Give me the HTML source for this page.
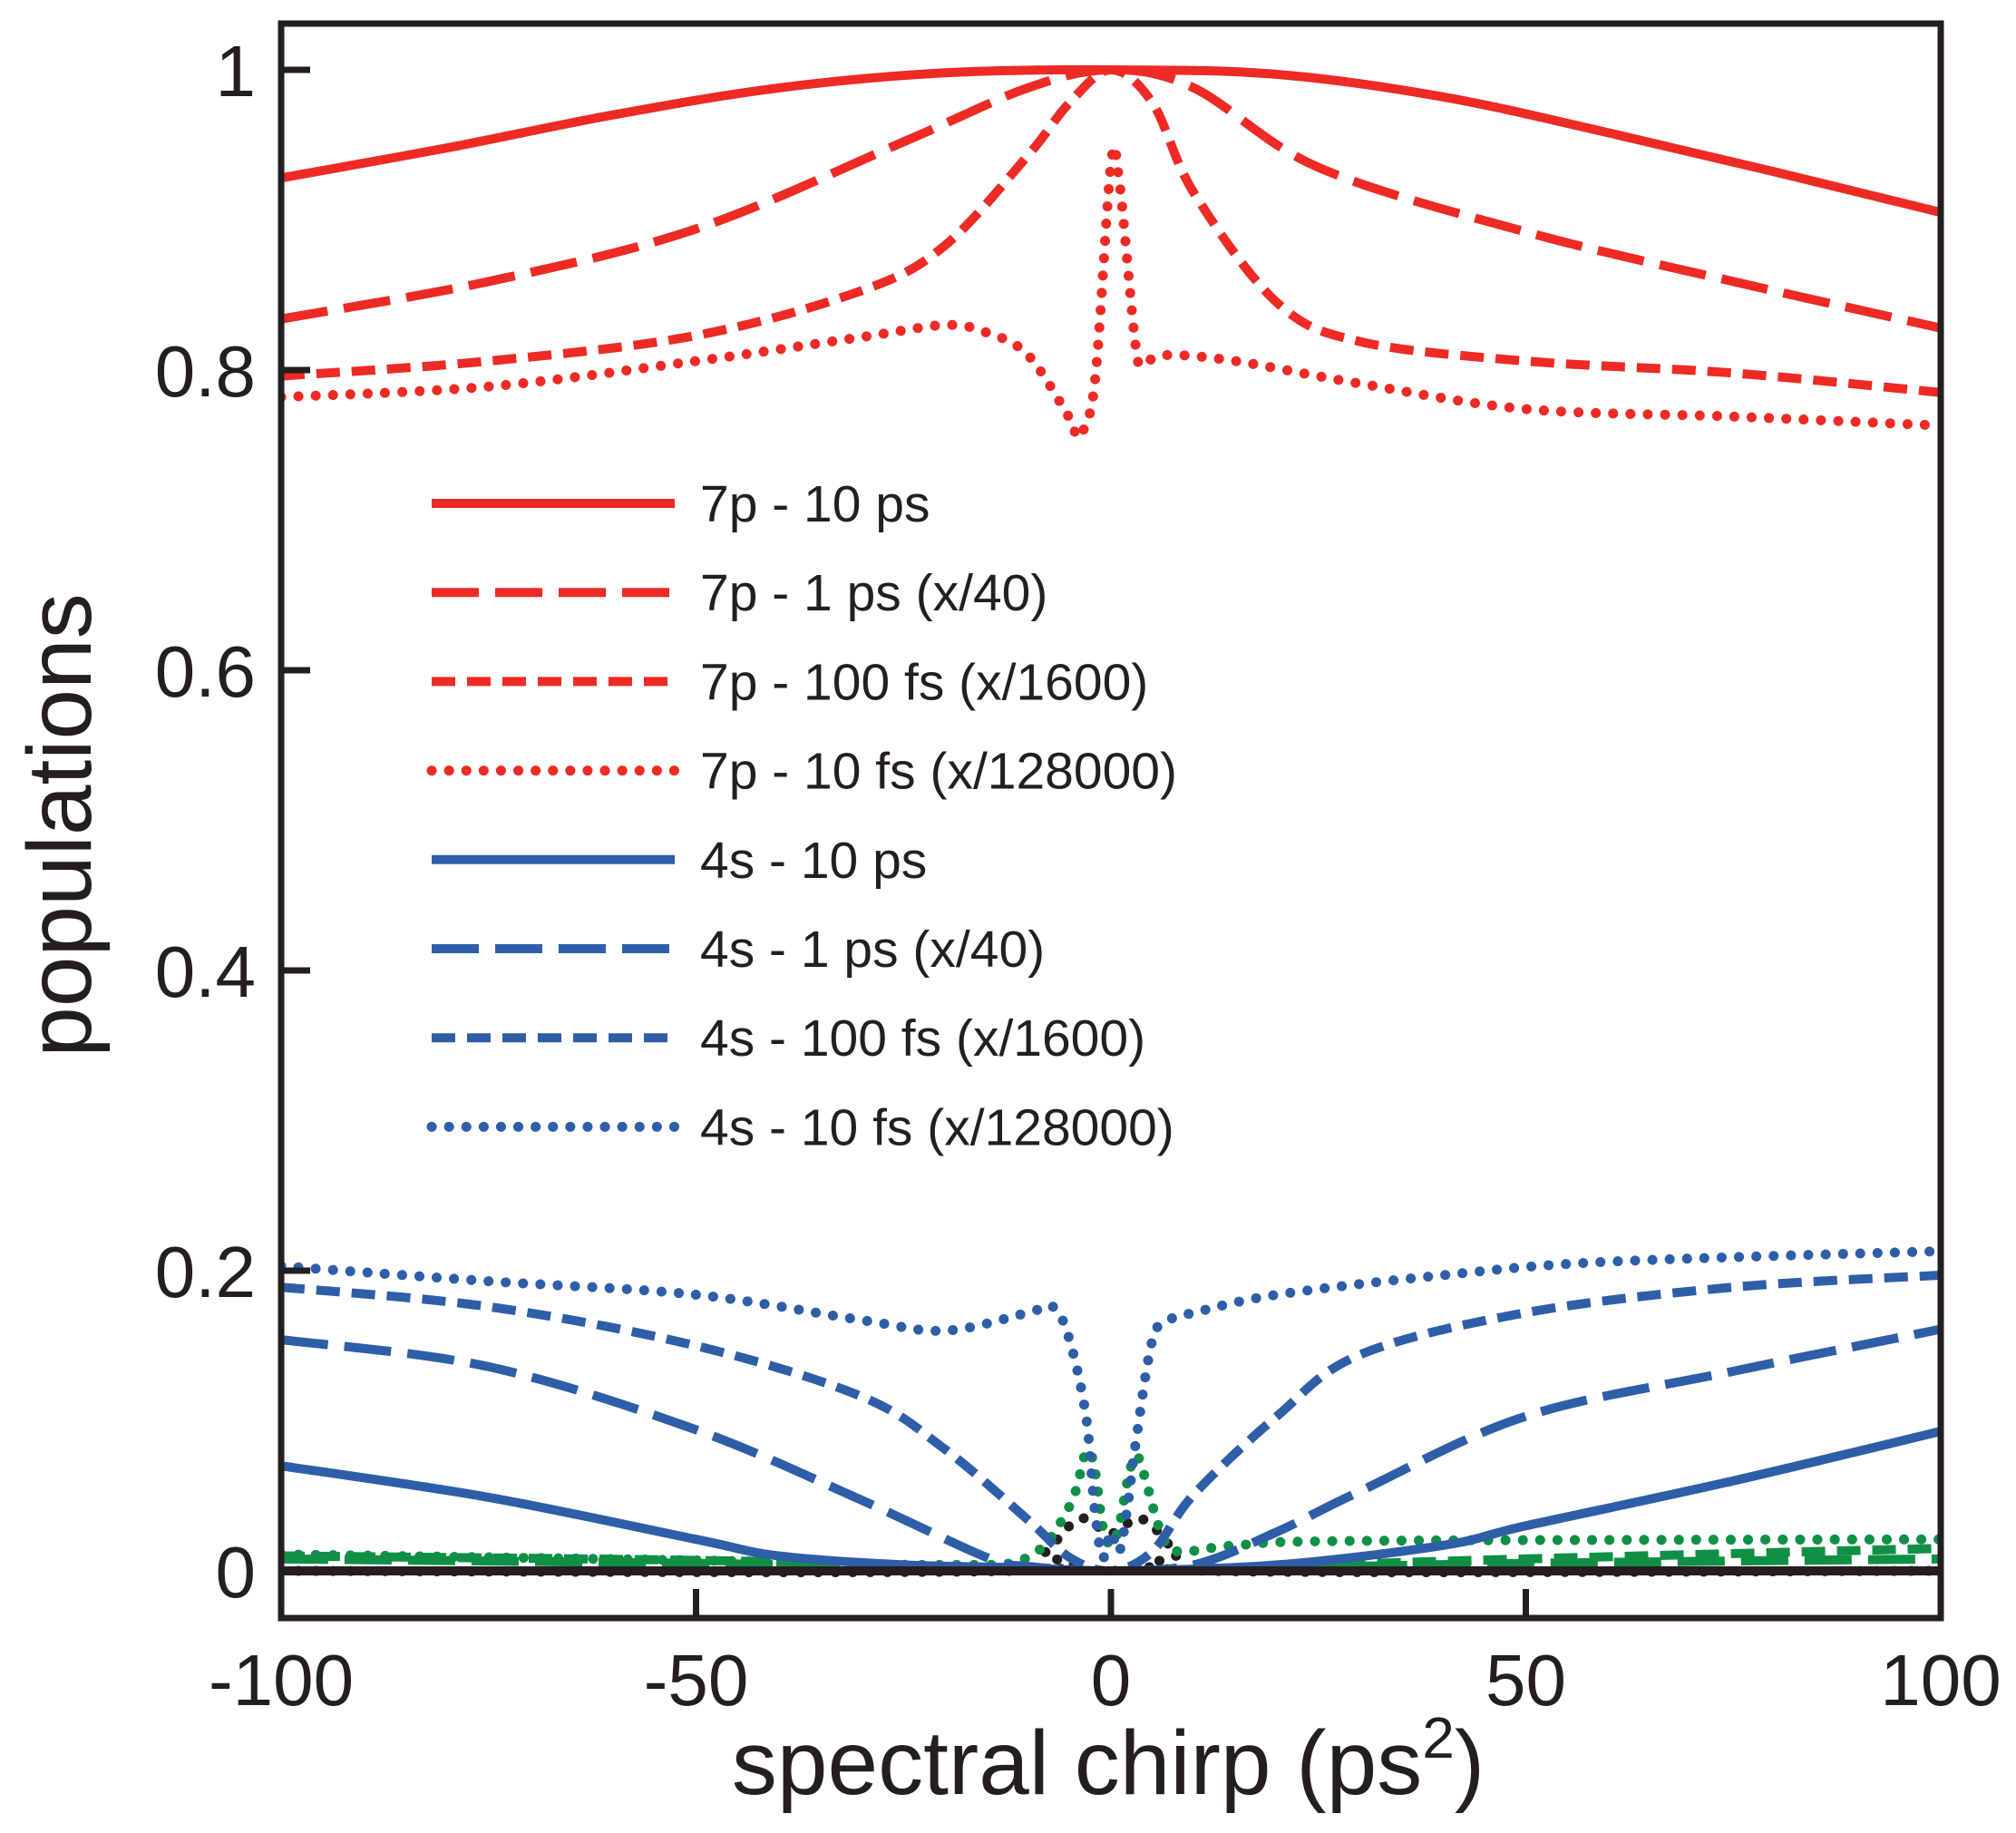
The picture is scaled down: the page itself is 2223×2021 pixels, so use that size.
<!DOCTYPE html>
<html><head><meta charset="utf-8"><style>
html,body{margin:0;padding:0;background:#fff;}
svg{display:block;font-family:"Liberation Sans",sans-serif;}
</style></head><body>
<svg id="chart" width="2223" height="2021" viewBox="0 0 2223 2021">
<g id="series"></g>
<g id="axes"></g>
<g id="legend"></g>
</svg>
<script>
const xTicks=[-100,-50,0,50,100];
const yTicks=[0,0.2,0.4,0.6,0.8,1];
const yTickLabels=["0","0.2","0.4","0.6","0.8","1"];
const xTickLabels=["-100","-50","0","50","100"];

const r10psX=[-100,-80,-60,-40,-20,0,20,40,60,80,100];
const r10psY=[.928,.948,.970,.988,.998,1,.997,.982,.958,.932,.905];
const r1psX=[-100,-75,-50,-25,-10,0,10,25,50,75,100];
const r1psY=[.834,.859,.894,.952,.988,1,.988,.935,.892,.859,.828];
const r100fsX=[-100,-75,-50,-30,-20,-10,-5,0,5,10,20,30,50,75,100];
const r100fsY=[.796,.806,.823,.853,.883,.943,.978,1,.978,.918,.845,.819,.806,.798,.785];
const r10fsX=[-100,-75,-50,-30,-20,-15,-10,-5,-4,-2,0,1,3,4,7,15,30,50,75,100];
const r10fsY=[.782,.789,.806,.822,.830,.825,.810,.768,.756,.789,.937,.926,.815,.806,.810,.806,.791,.774,.769,.763];
const b10psX=[-100,-75,-50,-40,-25,-10,0,20,40,50,75,100];
const b10psY=[.070,.049,.021,.010,.004,.002,0,.004,.017,.030,.060,.093];
const b1psX=[-100,-75,-50,-30,-15,-10,0,10,20,30,50,75,100];
const b1psY=[.154,.136,.094,.047,.009,.003,0,.004,.026,.053,.103,.133,.161];
const b100fsX=[-100,-75,-50,-30,-20,-10,-5,0,5,10,20,30,50,75,100];
const b100fsY=[.189,.176,.150,.116,.081,.034,.009,0,.013,.051,.103,.144,.172,.189,.197];
const b10fsX=[-100,-75,-50,-30,-20,-10,-7,-5,-3,-2,-1,0,1,2,3,5,7,10,20,40,60,100];
const b10fsY=[.203,.193,.184,.167,.160,.172,.176,.154,.103,.043,.009,.026,.013,.043,.086,.154,.167,.172,.184,.197,.206,.213];
const g10fsX=[-100,-50,-20,-10,-5,-3,-2,-1,0,1,2,3,4,6,8,15,30,100];
const g10fsY=[.011,.007,.004,.009,.043,.079,.069,.030,.017,.030,.060,.077,.064,.026,.013,.017,.020,.021];
const g100fsX=[-100,-50,-20,0,20,50,100];
const g100fsY=[.010,.007,.003,0,.003,.008,.015];
const g1psX=[-100,-50,-20,0,20,50,100];
const g1psY=[.008,.005,.002,0,.002,.005,.008];
const k10fsX=[-100,-12,-8,-5,-3,-1,0,1,3,5,8,12,100];
const k10fsY=[0,0,.012,.03,.035,.027,.025,.027,.035,.03,.012,0,0];
const kZeroX=[-100,100];
const kZeroY=[0,0];

const NS="http://www.w3.org/2000/svg";
const X0=310,X1=2140,Y0=26,Y1=1784;
const xs=v=>1225+v*9.15;
const ys=v=>1732-v*1655;
const RED="#ee2a24",BLUE="#2f5ea8",GREEN="#109046",BLACK="#231f20";
const DASH={solid:"",long:"52 18",med:"26 13",dot:"0.1 19"};
function mk(tag,attrs,parent){const e=document.createElementNS(NS,tag);for(const k in attrs)e.setAttribute(k,attrs[k]);parent.appendChild(e);return e;}
function pathD(X,Y){
  const p=X.map((x,i)=>[xs(x),ys(Y[i])]);
  let d="M"+p[0][0].toFixed(1)+","+p[0][1].toFixed(1);
  for(let i=0;i<p.length-1;i++){
    const a=p[Math.max(0,i-1)],b=p[i],c=p[i+1],e=p[Math.min(p.length-1,i+2)];
    const t=0.5/3;
    const c1=[b[0]+(c[0]-a[0])*t,b[1]+(c[1]-a[1])*t];
    const c2=[c[0]-(e[0]-b[0])*t,c[1]-(e[1]-b[1])*t];
    d+="C"+c1[0].toFixed(1)+","+c1[1].toFixed(1)+" "+c2[0].toFixed(1)+","+c2[1].toFixed(1)+" "+c[0].toFixed(1)+","+c[1].toFixed(1);
  }
  return d;
}
const sg=document.getElementById('series');
const cp=mk('clipPath',{id:'clip'},sg);
mk('rect',{x:X0,y:Y0,width:X1-X0,height:Y1-Y0},cp);
const series=[
 ["g1ps",g1psX,g1psY,GREEN,"long"],["g100fs",g100fsX,g100fsY,GREEN,"med"],
 ["k10fs",k10fsX,k10fsY,BLACK,"dot"],["g10fs",g10fsX,g10fsY,GREEN,"dot"],
 ["b10ps",b10psX,b10psY,BLUE,"solid"],["b1ps",b1psX,b1psY,BLUE,"long"],["b100fs",b100fsX,b100fsY,BLUE,"med"],["b10fs",b10fsX,b10fsY,BLUE,"dot"],
 ["r10ps",r10psX,r10psY,RED,"solid"],["r1ps",r1psX,r1psY,RED,"long"],["r100fs",r100fsX,r100fsY,RED,"med"],["r10fs",r10fsX,r10fsY,RED,"dot"],
 ["zero",kZeroX,kZeroY,BLACK,"solid"]
];
series.forEach(s=>{
  const el=mk('path',{d:pathD(s[1],s[2]),fill:"none",stroke:s[3],"stroke-width":s[4]==="dot"?11:10,"stroke-dasharray":DASH[s[4]],"stroke-linecap":s[4]==="dot"?"round":"butt","clip-path":"url(#clip)"},sg);
  
  
});
const ag=document.getElementById('axes');
const fr=mk('rect',{x:X0,y:Y0,width:X1-X0,height:Y1-Y0,fill:"none",stroke:BLACK,"stroke-width":7},ag);

yTicks.forEach((v,i)=>{
  const t=mk('line',{x1:X0,x2:X0+32,y1:ys(v),y2:ys(v),stroke:BLACK,"stroke-width":7},ag);
  
  const l=mk('text',{x:282,y:ys(v)+29,"text-anchor":"end","font-size":80,fill:BLACK},ag);
  l.textContent=yTickLabels[i];
  
});
xTicks.forEach((v,i)=>{
  const t=mk('line',{x1:xs(v),x2:xs(v),y1:Y1,y2:Y1-32,stroke:BLACK,"stroke-width":7},ag);
  
  const l=mk('text',{x:xs(v),y:1880,"text-anchor":"middle","font-size":80,fill:BLACK},ag);
  l.textContent=xTickLabels[i];
  
});
const yt=mk('text',{x:0,y:0,transform:"translate(100,910) rotate(-90)","text-anchor":"middle","font-size":100,fill:BLACK},ag);
yt.textContent="populations";
const xt=mk('text',{x:1222,y:1978,"text-anchor":"middle","font-size":100,fill:BLACK},ag);
xt.innerHTML='spectral chirp (ps<tspan font-size="64" dy="-40">2</tspan><tspan dy="40">)</tspan>';

const lg=document.getElementById('legend');
const entries=[["7p - 10 ps",RED,"solid"],["7p - 1 ps (x/40)",RED,"long"],["7p - 100 fs (x/1600)",RED,"med"],["7p - 10 fs (x/128000)",RED,"dot"],
["4s - 10 ps",BLUE,"solid"],["4s - 1 ps (x/40)",BLUE,"long"],["4s - 100 fs (x/1600)",BLUE,"med"],["4s - 10 fs (x/128000)",BLUE,"dot"]];
entries.forEach((e,i)=>{
  const y=555+i*98.2;
  const g=mk('g',{},lg);
  
  mk('line',{x1:476,x2:744,y1:y,y2:y,stroke:e[1],"stroke-width":e[2]==="dot"?11:10,"stroke-dasharray":DASH[e[2]],"stroke-linecap":e[2]==="dot"?"round":"butt"},g);
  const t=mk('text',{x:772,y:y+20,"font-size":57,fill:BLACK},g);
  t.textContent=e[0];
});
</script>
</body></html>
